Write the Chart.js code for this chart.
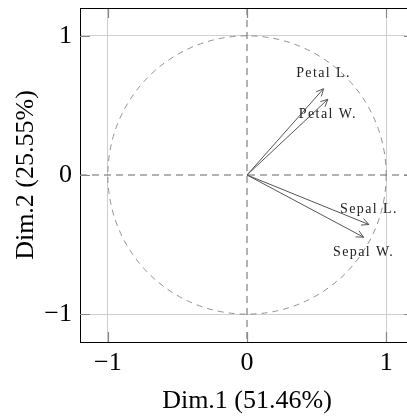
<!DOCTYPE html>
<html>
<head>
<meta charset="utf-8">
<script src="https://cdn.jsdelivr.net/npm/chart.js@4"></script>
<style>
  html, body { margin: 0; padding: 0; overflow: hidden; background: #fff; }
</style>
</head>
<body>
<canvas id="pca" width="414" height="419"></canvas>
<script>
'use strict';

// ===== DATA =====
const variables = ['Sepal L.', 'Sepal W.', 'Petal L.', 'Petal W.'];
const dim1 = [0.876, 0.838, 0.55, 0.581];
const dim2 = [-0.356, -0.447, 0.62, 0.544];
const labelSide = [-1, 1, -1, 1];   // -1 = label above the tip, 1 = below
const axisTicks = [-1, 0, 1];
const xTitle = 'Dim.1 (51.46%)';
const yTitle = 'Dim.2 (25.55%)';

const serif = '"Liberation Serif", "Times New Roman", serif';
const arrowColor = '#555';

const datasets = variables.map((name, i) => ({
    label: name,
    data: [{ x: 0, y: 0 }, { x: dim1[i], y: dim2[i] }],
    showLine: true,
    borderColor: arrowColor,
    borderWidth: 1,
    pointRadius: 0,
    pointHoverRadius: 0,
}));

const tickText = v => (v < 0 ? '\u2212' + Math.abs(v) : String(v));

// circle, dashed zero lines, inner tick marks, top border
const decorations = {
    id: 'decorations',
    beforeDatasetsDraw(chart) {
        const { ctx, chartArea: a, scales: { x, y } } = chart;
        const x0 = x.getPixelForValue(0), y0 = y.getPixelForValue(0);
        const rx = x.getPixelForValue(1) - x0, ry = y0 - y.getPixelForValue(1);
        ctx.save();
        ctx.beginPath(); ctx.rect(a.left, a.top, a.right - a.left, a.bottom - a.top); ctx.clip();

        ctx.strokeStyle = '#777'; ctx.lineWidth = 0.8; ctx.setLineDash([6, 5]);
        ctx.beginPath(); ctx.ellipse(x0, y0, rx, ry, 0, 0, Math.PI * 2); ctx.stroke();

        ctx.strokeStyle = '#666'; ctx.lineWidth = 1; ctx.setLineDash([7, 5]);
        ctx.beginPath();
        ctx.moveTo(a.left, y0); ctx.lineTo(a.right, y0);
        ctx.moveTo(x0, a.top); ctx.lineTo(x0, a.bottom);
        ctx.stroke();

        ctx.setLineDash([]); ctx.strokeStyle = '#888'; ctx.lineWidth = 1.2;
        ctx.beginPath();
        axisTicks.forEach(v => {
            const px = Math.round(x.getPixelForValue(v)) + 0.5;
            const py = Math.round(y.getPixelForValue(v)) + 0.5;
            ctx.moveTo(px, a.bottom); ctx.lineTo(px, a.bottom - 10);
            ctx.moveTo(px, a.top); ctx.lineTo(px, a.top + 10);
            ctx.moveTo(a.left, py); ctx.lineTo(a.left + 10, py);
            ctx.moveTo(a.right, py); ctx.lineTo(a.right - 10, py);
        });
        ctx.stroke();
        ctx.restore();

        ctx.save();
        ctx.strokeStyle = '#000'; ctx.lineWidth = 1;
        ctx.beginPath();
        ctx.moveTo(a.left, Math.round(a.top) + 0.5); ctx.lineTo(a.right, Math.round(a.top) + 0.5);
        ctx.moveTo(Math.round(a.right) - 0.5, a.top); ctx.lineTo(Math.round(a.right) - 0.5, a.bottom);
        ctx.stroke();
        ctx.restore();
    },
    afterDatasetsDraw(chart) {
        const { ctx, scales: { x, y } } = chart;
        ctx.save();
        ctx.strokeStyle = arrowColor; ctx.lineWidth = 1;
        variables.forEach((name, i) => {
            const tx = x.getPixelForValue(dim1[i]), ty = y.getPixelForValue(dim2[i]);
            const ang = Math.atan2(ty - y.getPixelForValue(0), tx - x.getPixelForValue(0));
            const len = 8, spread = 0.45;
            ctx.beginPath();
            ctx.moveTo(tx - len * Math.cos(ang - spread), ty - len * Math.sin(ang - spread));
            ctx.lineTo(tx, ty);
            ctx.lineTo(tx - len * Math.cos(ang + spread), ty - len * Math.sin(ang + spread));
            ctx.stroke();

            ctx.fillStyle = '#222';
            ctx.font = '14px ' + serif;
            ctx.letterSpacing = '1.4px';
            ctx.textAlign = 'center';
            ctx.textBaseline = 'middle';
            ctx.fillText(name, tx, ty + labelSide[i] * 15);
        });
        ctx.restore();
    }
};

new Chart(document.getElementById('pca'), {
    type: 'scatter',
    data: { datasets },
    options: {
        responsive: false,
        animation: false,
        events: [],
        layout: { padding: { top: 8, right: 0, left: 0, bottom: 0 } },
        plugins: { legend: { display: false }, tooltip: { enabled: false } },
        scales: {
            x: {
                type: 'linear', min: -1.2, max: 1.2,
                afterBuildTicks: s => { s.ticks = axisTicks.map(v => ({ value: v })); },
                afterFit: s => { s.height = 77; s.paddingLeft = 0; s.paddingRight = 0; },
                ticks: { color: '#000', font: { family: serif, size: 26 }, padding: 6, callback: tickText },
                grid: {
                    drawTicks: false,
                    color: c => (c.tick && c.tick.value === 0 ? 'rgba(0,0,0,0)' : '#cfcfcf'),
                    lineWidth: 1,
                },
                border: { display: true, color: '#000', width: 1 },
                title: { display: true, text: xTitle, color: '#000', font: { family: serif, size: 26 }, padding: { top: 0, bottom: 2 } },
            },
            y: {
                type: 'linear', min: -1.2, max: 1.2,
                afterBuildTicks: s => { s.ticks = axisTicks.map(v => ({ value: v })); },
                afterFit: s => { s.width = 80; s.paddingTop = 0; s.paddingBottom = 0; },
                ticks: { color: '#000', font: { family: serif, size: 26 }, padding: 8, callback: tickText },
                grid: {
                    drawTicks: false,
                    color: c => (c.tick && c.tick.value === 0 ? 'rgba(0,0,0,0)' : '#cfcfcf'),
                    lineWidth: 1,
                },
                border: { display: true, color: '#000', width: 1 },
                title: { display: true, text: yTitle, color: '#000', font: { family: serif, size: 26 }, padding: { top: 11, bottom: 0 } },
            }
        }
    },
    plugins: [decorations]
});
</script>
</body>
</html>
